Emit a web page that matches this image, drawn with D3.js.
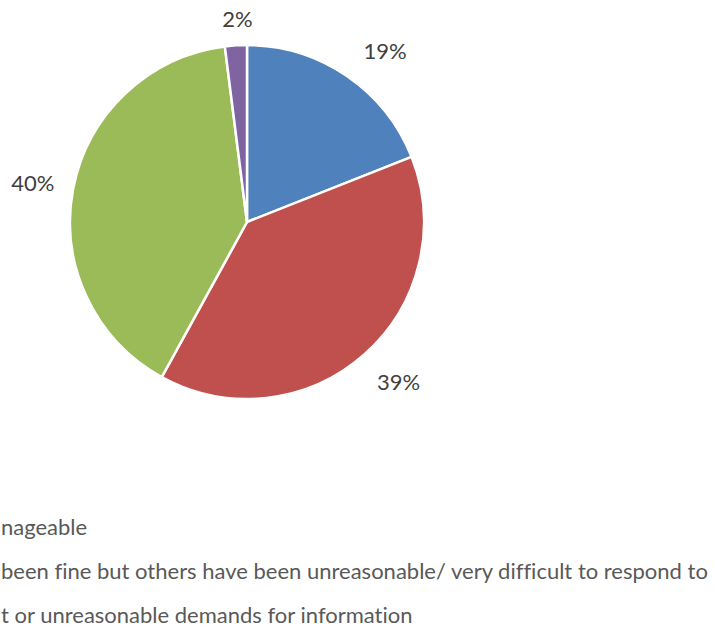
<!DOCTYPE html>
<html>
<head>
<meta charset="utf-8">
<script src="https://cdn.jsdelivr.net/npm/d3@7"></script>
<style>
  html, body { margin: 0; padding: 0; background: #fff; overflow: hidden; }
  text { font-variant-ligatures: none; }
</style>
</head>
<body>
<script>
// slice data, clockwise from 12 o'clock
const categories = ["Manageable", "Some fine, others unreasonable", "Unreasonable demands", "Other"];
const values = [19, 39, 40, 2];
const colors = ["#4f81bd", "#c0504d", "#9bbb59", "#8064a2"];
// legend lines, as far as they show inside the frame
const legendText = [
  "nageable",
  "been fine but others have been unreasonable/ very difficult to respond to",
  "t or unreasonable demands for information"
];

const width = 715;
const height = 630;
const cx = 247, cy = 222, radius = 177;

// excel's label placement isn't purely radial, nudge each one
const labelNudge = [[16, 9], [8, -2], [-1, 2], [4, 14]];

const svg = d3.select("body").append("svg")
    .attr("width", width)
    .attr("height", height)
    .attr("style", "font-family: Lato, 'Open Sans', sans-serif;");

const data = categories.map((c, i) => ({ name: c, value: values[i], color: colors[i] }));

const pie = d3.pie()
    .sort(null)
    .value(d => d.value);

const arc = d3.arc()
    .innerRadius(0)
    .outerRadius(radius);

const labelArc = d3.arc()
    .innerRadius(radius + 40)
    .outerRadius(radius + 40);

const g = svg.append("g").attr("transform", `translate(${cx},${cy})`);

const arcs = pie(data);

g.selectAll("path")
  .data(arcs)
  .enter()
  .append("path")
  .attr("d", arc)
  .attr("fill", d => d.data.color)
  .attr("stroke", "#fff")
  .attr("stroke-width", 2.5)
  .attr("stroke-linejoin", "round");

g.selectAll("text.label")
  .data(arcs)
  .enter()
  .append("text")
  .attr("class", "label")
  .attr("transform", (d, i) => {
    const [x, y] = labelArc.centroid(d);
    return `translate(${x + labelNudge[i][0]},${y + labelNudge[i][1]})`;
  })
  .attr("text-anchor", "middle")
  .attr("dy", "0.35em")
  .style("font-size", "22px")
  .style("fill", "#404040")
  .text(d => Math.round(d.value) + "%");

// legend (its left part lies outside the frame in the original)
svg.append("g")
  .selectAll("text")
  .data(legendText)
  .enter()
  .append("text")
  .attr("x", 1)
  .attr("y", (d, i) => 535 + i * 44)
  .style("font-size", "22px")
  .style("fill", "#595959")
  .text(d => d);
</script>
</body>
</html>
